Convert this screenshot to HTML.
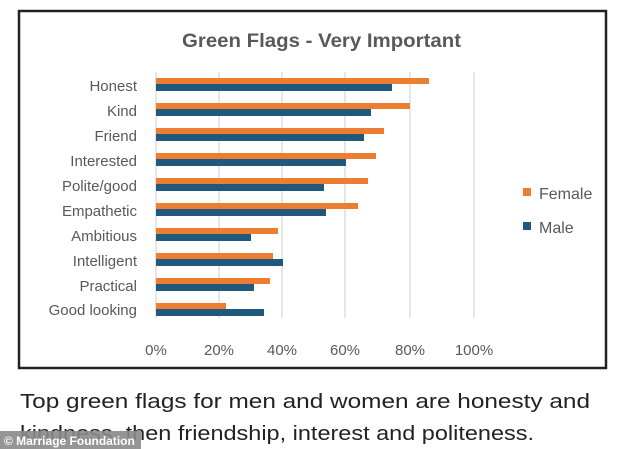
<!DOCTYPE html>
<html><head><meta charset="utf-8"><style>
html,body{margin:0;padding:0;background:#fff;width:634px;height:449px;overflow:hidden}
</style></head><body>
<svg width="634" height="449" xmlns="http://www.w3.org/2000/svg" font-family="'Liberation Sans', sans-serif">
<rect x="0" y="0" width="634" height="449" fill="#fff"/>
<rect x="19" y="11" width="587" height="357" fill="#fff" stroke="#222" stroke-width="2.5"/>
<text x="182" y="47" textLength="279" lengthAdjust="spacingAndGlyphs" font-size="19" font-weight="bold" fill="#595959">Green Flags - Very Important</text>
<g stroke="#d9d9d9" stroke-width="1.3">
<line x1="156" y1="72" x2="156" y2="318"/><line x1="219" y1="72" x2="219" y2="318"/><line x1="282" y1="72" x2="282" y2="318"/><line x1="345" y1="72" x2="345" y2="318"/><line x1="410" y1="72" x2="410" y2="318"/><line x1="474" y1="72" x2="474" y2="318"/>
</g>
<g font-size="15" fill="#595959" text-anchor="end">
<text x="137" y="91">Honest</text><text x="137" y="116">Kind</text><text x="137" y="141">Friend</text><text x="137" y="166">Interested</text><text x="137" y="191">Polite/good</text><text x="137" y="216">Empathetic</text><text x="137" y="241">Ambitious</text><text x="137" y="266">Intelligent</text><text x="137" y="291">Practical</text><text x="137" y="315">Good looking</text>
</g>
<g fill="#ed7d31">
<rect x="156" y="78" width="273" height="6"/><rect x="156" y="103" width="254" height="6"/><rect x="156" y="128" width="228" height="6"/><rect x="156" y="153" width="220" height="6"/><rect x="156" y="178" width="212" height="6"/><rect x="156" y="203" width="202" height="6"/><rect x="156" y="228" width="122" height="6"/><rect x="156" y="253" width="117" height="6"/><rect x="156" y="278" width="114" height="6"/><rect x="156" y="303" width="70" height="6"/>
</g>
<g fill="#1f5a7e">
<rect x="156" y="84" width="236" height="7"/><rect x="156" y="109" width="215" height="7"/><rect x="156" y="134" width="208" height="7"/><rect x="156" y="159" width="190" height="7"/><rect x="156" y="184" width="168" height="7"/><rect x="156" y="209" width="170" height="7"/><rect x="156" y="234" width="95" height="7"/><rect x="156" y="259" width="127" height="7"/><rect x="156" y="284" width="98" height="7"/><rect x="156" y="309" width="108" height="7"/>
</g>
<g font-size="15" fill="#595959" text-anchor="middle">
<text x="156" y="355">0%</text><text x="219" y="355">20%</text><text x="282" y="355">40%</text><text x="345" y="355">60%</text><text x="410" y="355">80%</text><text x="474" y="355">100%</text>
</g>
<rect x="523" y="188" width="8" height="8" fill="#ed7d31"/>
<text x="539" y="199" font-size="16" fill="#595959">Female</text>
<rect x="523" y="222" width="8" height="8" fill="#1f5a7e"/>
<text x="539" y="233" font-size="16" fill="#595959">Male</text>
<g font-size="20" fill="#222">
<text x="20" y="408" textLength="570" lengthAdjust="spacingAndGlyphs">Top green flags for men and women are honesty and</text>
<text x="20" y="440" textLength="514" lengthAdjust="spacingAndGlyphs">kindness, then friendship, interest and politeness.</text>
</g>
<rect x="0" y="431" width="141" height="18" fill="#8a8a8a" opacity="0.9"/>
<text x="4" y="445" font-size="12" font-weight="bold" fill="#fff">© Marriage Foundation</text>
</svg>
</body></html>
